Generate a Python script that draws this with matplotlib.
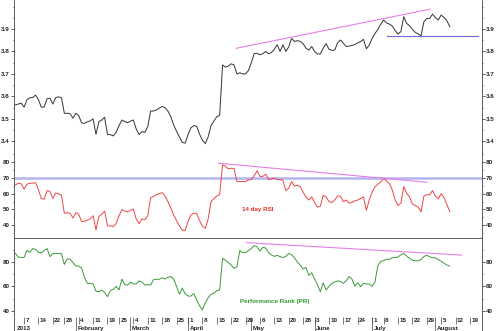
import numpy as np
import pandas as pd
import matplotlib
matplotlib.use("Agg")
import matplotlib.pyplot as plt
from matplotlib.ticker import MultipleLocator

plt.rcParams['font.family'] = ['Liberation Sans', 'DejaVu Sans']

# trading calendar (US), x axis = trading day index
holidays = ['2013-01-01', '2013-01-21', '2013-02-18', '2013-03-29', '2013-05-27', '2013-07-04']
days = pd.bdate_range('2013-01-02', '2013-08-23')
days = days[~days.isin(pd.to_datetime(holidays))]
month_names = ['2013', 'February', 'March', 'April', 'May', 'June', 'July', 'August']

price = [3.562, 3.566, 3.57, 3.552, 3.585, 3.594, 3.595, 3.606, 3.585, 3.552,
         3.553, 3.59, 3.592, 3.566, 3.595, 3.598, 3.594, 3.525, 3.525, 3.523,
         3.503, 3.525, 3.515, 3.482, 3.48, 3.487, 3.491, 3.5, 3.431, 3.487,
         3.495, 3.507, 3.43, 3.43, 3.424, 3.44, 3.47, 3.495, 3.488, 3.483,
         3.49, 3.495, 3.455, 3.43, 3.443, 3.44, 3.465, 3.535, 3.535, 3.54,
         3.548, 3.555, 3.55, 3.535, 3.51, 3.473, 3.445, 3.42, 3.395, 3.392,
         3.43, 3.46, 3.47, 3.467, 3.432, 3.405, 3.39, 3.42, 3.47, 3.49,
         3.51, 3.515, 3.74, 3.73, 3.735, 3.745, 3.74, 3.70, 3.705, 3.70,
         3.70, 3.715, 3.75, 3.79, 3.792, 3.785, 3.79, 3.80, 3.79, 3.795,
         3.81, 3.83, 3.80, 3.83, 3.80, 3.82, 3.858, 3.845, 3.848, 3.845,
         3.835, 3.815, 3.806, 3.822, 3.80, 3.789, 3.789, 3.815, 3.835, 3.81,
         3.805, 3.806, 3.838, 3.851, 3.836, 3.822, 3.824, 3.827, 3.831, 3.838,
         3.844, 3.854, 3.812, 3.828, 3.858, 3.88, 3.898, 3.921, 3.94, 3.927,
         3.922, 3.913, 3.893, 3.878, 3.888, 3.955, 3.925, 3.915, 3.898, 3.885,
         3.878, 3.87, 3.932, 3.947, 3.947, 3.966, 3.951, 3.94, 3.962, 3.951,
         3.937, 3.91]

rsi = [65.6, 66.7, 66.3, 63, 66, 66.7, 66.7, 67, 62.5, 57,
       56.5, 62, 61.4, 57, 60.5, 60, 59, 47.6, 48, 47.6,
       44.6, 48, 47, 42.3, 42.5, 43.3, 44, 46, 37, 45.5,
       47, 49, 39.6, 39.6, 39.2, 41, 46, 50, 49, 48.5,
       49.5, 50.3, 44, 41, 44, 43.5, 46, 57.5, 58.2, 59.5,
       60, 60.7, 58.5, 55, 51, 46.5, 43, 39.5, 37, 36.5,
       42.5, 46.5, 47.6, 47.5, 43, 39.5, 38, 44, 55, 57,
       58.5, 59.5, 78.3, 77.5, 75.8, 76.2, 76, 67.7, 67.7, 67.7,
       67.7, 68.8, 69, 71.5, 74.5, 71, 71, 72.5, 69, 69.5,
       70, 69, 69, 68.5, 62, 63.5, 67.7, 65, 65.3, 64.5,
       61, 58, 56, 58, 54.5, 51.5, 52, 59, 58, 55,
       54.4, 56, 58.5, 58.5, 55, 56, 54, 54.5, 55.5, 56,
       57, 58, 49.5, 56, 61, 64.5, 66, 67.5, 69.8, 68,
       66.5, 62.5, 56, 52.5, 54, 64.5, 60.3, 58, 53.5, 52.5,
       51.5, 48.5, 58.5, 59.3, 59.3, 62, 58.5, 56.8, 60, 57.5,
       53, 48.7]

pr = [87, 84, 83.8, 83.8, 89.5, 88, 91, 90.5, 88, 87.5,
      89.5, 91, 84.4, 87, 87.1, 87.1, 86.8, 78, 82.5, 82.5,
      79.5, 76.7, 76.7, 75, 67.5, 62.5, 62.5, 62, 56, 55.5,
      57, 55, 51.5, 56.5, 57.5, 60, 57, 66, 61.5, 61,
      63.5, 62, 62, 64.5, 63.5, 61, 61.5, 61, 65.5, 65.8,
      65.8, 67, 66, 67.5, 68, 66, 60, 53.5, 58.5, 54,
      52, 52, 54, 48.8, 44, 40.6, 46.5, 50.5, 53.5, 54.3,
      56.5, 57, 83, 81.5, 79.5, 77.5, 74.8, 76, 89.5, 87.7,
      87.7, 89.5, 91.2, 93.5, 92.5, 89, 92, 91.5, 87.7, 85.9,
      84.6, 85.5, 84.4, 83.8, 84.5, 87.1, 86, 83.5, 80, 77.5,
      74.2, 75.5, 69, 71.2, 66, 61.5, 55.5, 63, 57, 60,
      62.5, 63.5, 64.5, 64, 62.5, 64.5, 68, 66, 60, 63,
      59.7, 62.5, 61.9, 61.9, 60, 63.8, 77, 80.5, 81.2, 82.2,
      82.2, 83.5, 83.8, 84, 86, 87, 85, 83, 81.6, 81,
      81, 82, 84.5, 85.5, 84.4, 83.5, 83.5, 82, 80.5, 78.9,
      77.5, 76.7]

# trend lines (x in trading days, y in panel units)
price_trend = ([76.7, 144.1], [3.814, 3.988])
price_support = ([129.1, 160.9], [3.869, 3.869])
rsi_trend = ([70.5, 143.0], [79.4, 67.3])
pr_trend = ([80.4, 155.1], [95.9, 85.7])

x = np.arange(len(price))
W, H = 497, 331
fig = plt.figure(figsize=(W / 100, H / 100), dpi=100)

def px_axes(top, bottom):
    return fig.add_axes([14 / W, (H - bottom) / H, 468 / W, (bottom - top) / H])

ax1 = px_axes(0, 152)
ax2 = px_axes(152, 238.3)
ax3 = px_axes(238.3, 316.5)
axd = px_axes(316.5, 331)

xlim = (-0.5, 162.2)
for ax in (ax1, ax2, ax3, axd):
    ax.set_xlim(*xlim)
    ax.set_xticks([])
    for s in ax.spines.values():
        s.set_color('#444444')
        s.set_linewidth(0.6)
    ax.tick_params(axis='y', which='both', left=True, right=True, labelleft=True,
                   labelright=True, direction='out', width=0.5, pad=1,
                   labelsize=4.5, colors='#222222')
    ax.tick_params(axis='y', which='major', length=2)
    ax.tick_params(axis='y', which='minor', length=1)
    for lab in ax.get_yticklabels():
        lab.set_fontweight('bold')

ax1.spines['top'].set_visible(False)
ax1.spines['bottom'].set_visible(False)
ax2.spines['top'].set_visible(False)
ax2.spines['bottom'].set_visible(False)
axd.spines['top'].set_visible(False)
axd.spines['bottom'].set_visible(False)

# price
ax1.plot(x, price, color='#333333', lw=0.7)
ax1.plot(*price_trend, color='#e67fe6', lw=0.8)
ax1.plot(*price_support, color='#6b6bd6', lw=0.8)
ax1.set_ylim(3.3526, 4.029)
ax1.set_yticks([3.4, 3.5, 3.6, 3.7, 3.8, 3.9])
ax1.yaxis.set_minor_locator(MultipleLocator(0.05))

# RSI
ax2.axhline(70, color='#b4b4ee', lw=1.8)
ax2.plot(x, rsi, color='#ee4444', lw=0.7)
ax2.plot(*rsi_trend, color='#e67fe6', lw=0.8)
ax2.set_ylim(31.7, 86.5)
ax2.set_yticks([40, 50, 60, 70, 80])
ax2.yaxis.set_minor_locator(MultipleLocator(5))
ax2.text(78.6, 49.7, '14 day RSI', color='#e8281e', fontsize=4.5,
         fontweight='bold', va='center', ha='left')

# Performance Rank
ax3.plot(x, pr, color='#3a9a3a', lw=0.7)
ax3.plot(*pr_trend, color='#e67fe6', lw=0.8)
ax3.set_ylim(35.2, 99.5)
ax3.set_yticks([40, 60, 80])
ax3.yaxis.set_minor_locator(MultipleLocator(10))
ax3.text(78.1, 47.6, 'Performance Rank (PR)', color='#2e9a2e', fontsize=4.5,
         fontweight='bold', va='center', ha='left')

for ax in (ax1, ax2, ax3):
    for lab in ax.get_yticklabels():
        lab.set_fontweight('bold')

# date strip
axd.set_ylim(0, 1)
axd.set_yticks([])
axd.tick_params(axis='y', which='both', left=False, right=False)
wk = [days[i].isocalendar()[1] for i in range(len(days))]
for i in range(1, len(days)):
    if wk[i] != wk[i - 1] and i < xlim[1] - 2:
        axd.vlines(i, 0.45, 1, color='#444444', lw=0.5)
        axd.text(i + 0.5, 0.72, str(days[i].day), fontsize=4.5, fontweight='bold',
                 ha='left', va='center', color='#222222')
m = 0
for i in range(len(days)):
    if i == 0 or days[i].month != days[i - 1].month:
        if i > 0:
            axd.vlines(i, 0, 1, color='#444444', lw=0.5)
        axd.text(max(i, 0) + 0.5, 0.2, month_names[m], fontsize=4.5,
                 fontweight='bold', ha='left', va='center', color='#222222')
        m += 1

fig.savefig('out.png', dpi=100)
